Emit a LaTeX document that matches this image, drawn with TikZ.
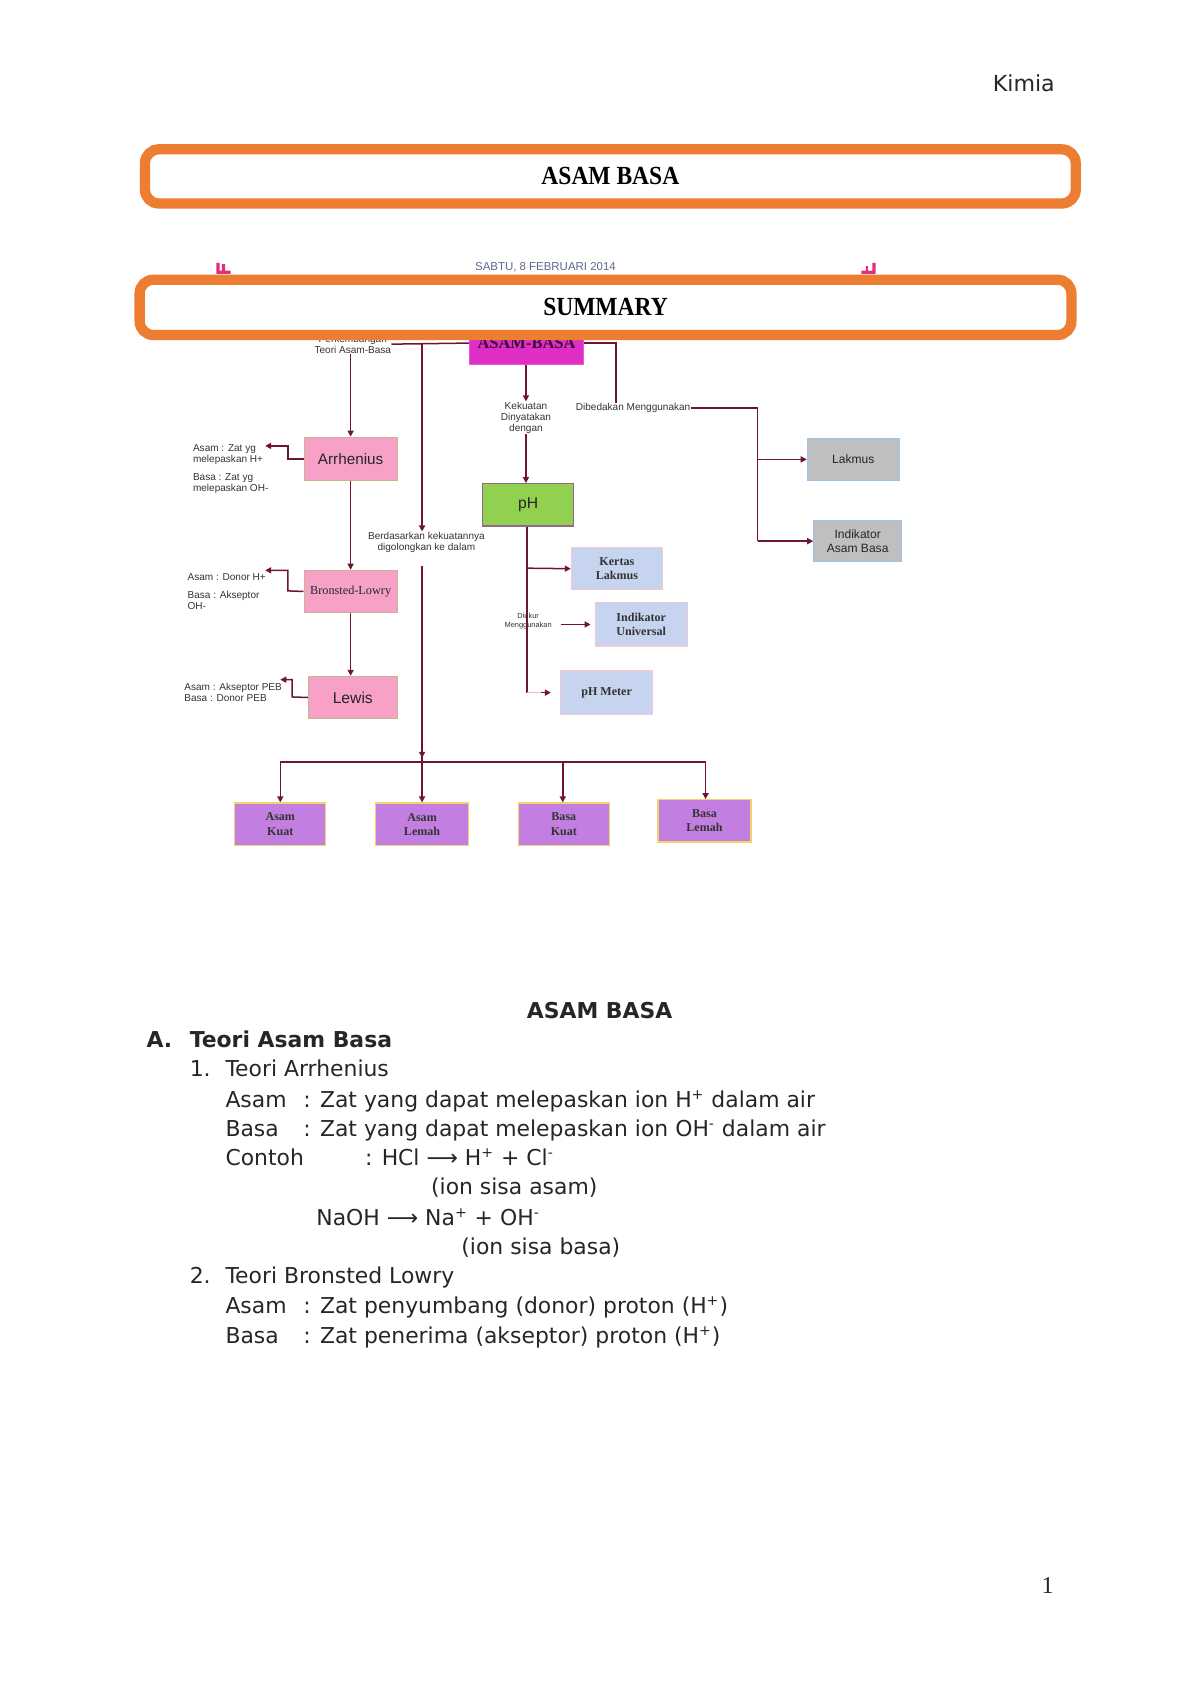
\documentclass[tikz,border=0pt]{standalone}
\usepackage{fontspec}
\usepackage{graphicx}
\setmainfont{DejaVu Sans}
\newfontfamily\serf{Liberation Serif}
\newfontfamily\arf{Liberation Sans}
\newfontfamily\dvs{DejaVu Sans}
\usetikzlibrary{arrows.meta}
\definecolor{oran}{HTML}{ED7D31}
\definecolor{maroon}{HTML}{6E1436}
\definecolor{magF}{HTML}{DE2EC6}
\definecolor{pinkF}{HTML}{F7A1C8}
\definecolor{khaki}{HTML}{C8B48C}
\definecolor{greenF}{HTML}{92D050}
\definecolor{greenD}{HTML}{8E6A8E}
\definecolor{grayF}{HTML}{BFBFBF}
\definecolor{lblue}{HTML}{9DC3E6}
\definecolor{blueF}{HTML}{C6D4EF}
\definecolor{pinkD}{HTML}{F0C8D8}
\definecolor{purpF}{HTML}{C27EE0}
\definecolor{yelD}{HTML}{F2D46A}
\definecolor{lblc}{HTML}{333333}
\definecolor{bodyc}{HTML}{262626}
\definecolor{datec}{HTML}{5A6A8A}
\definecolor{markc}{HTML}{E0307A}
\definecolor{pinkline}{HTML}{F4B8D0}
\def\u{0.18936mm}
\newcommand{\sps}[1]{\textsuperscript{\fontsize{7}{8}\selectfont #1}}
\begin{document}
\begin{tikzpicture}[x=0.18936mm,y=-0.18936mm,
  box/.style={draw, line width=0.6pt, inner sep=0pt, align=center},
  pinkbox/.style={box, fill=pinkF, draw=khaki},
  purpbox/.style={box, fill=purpF, draw=yelD, font=\serf\bfseries\fontsize{6}{7}\selectfont, text=black!80},
  bluebox/.style={box, fill=blueF, draw=pinkD, font=\serf\bfseries\fontsize{6}{7}\selectfont, text=black!80},
  graybox/.style={box, fill=grayF, draw=lblue, font=\arf\fontsize{6}{6.6}\selectfont, text=black!85},
  conn/.style={draw=maroon, line width=0.75pt},
  arr/.style={conn, -{Triangle[length=3pt,width=3pt]}},
  lbl/.style={font=\arf\fontsize{5}{5.6}\selectfont, text=lblc, inner sep=0pt, align=center},
  lbll/.style={lbl, align=left, anchor=west},
  bt/.style={font=\dvs\fontsize{10.9}{13}\selectfont, text=bodyc, anchor=base west, inner sep=0pt},
  obox/.style={draw=oran, line width=1.8mm, fill=white, rounded corners=2.4mm, inner sep=0pt}
]
\useasboundingbox (0,0) rectangle (1109,1569);

% header
\node[font=\dvs\fontsize{11}{13}\selectfont, text=bodyc, anchor=base east, inner sep=0pt] (kimia) at (975,85) {Kimia};

% title box 1
\node[obox, minimum width={860*\u}, minimum height={50*\u}] (title) at (564,163) {\serf\bfseries\fontsize{13}{15}\selectfont\scalebox{0.9}[1]{ASAM BASA}};

% date + marks
\node[font=\arf\fontsize{5.7}{6}\selectfont, text=datec, inner sep=0pt] (date) at (504,247) {SABTU, 8 FEBRUARI 2014};
\fill[markc] (200,243) rectangle (203,253) (205,244) rectangle (208,253) (200,250) rectangle (213,253);
\fill[markc] (806,243) rectangle (809,253) (796,250) rectangle (809,253) (800,246) rectangle (802,250);

% ===== diagram nodes =====
\node[box, fill=magF, draw=magF!80, minimum width={105*\u}, minimum height={40*\u}, font=\serf\bfseries\fontsize{8.2}{9}\selectfont, text=black!75!magF] (ab) at (486.5,317) {ASAM-BASA};
\node[lbl] (perk) at (326,318) {Perkembangan\\Teori Asam-Basa};
\node[pinkbox, minimum width={86*\u}, minimum height={40*\u}, font=\arf\fontsize{7.6}{8}\selectfont, text=black!85] (arh) at (324,424) {Arrhenius};
\node[pinkbox, minimum width={86*\u}, minimum height={39*\u}, font=\serf\fontsize{6.1}{7}\selectfont, text=black!85] (bl) at (324,546.5) {Bronsted-Lowry};
\node[pinkbox, minimum width={82*\u}, minimum height={39*\u}, font=\arf\fontsize{7.8}{8}\selectfont, text=black!85] (lew) at (326,644.5) {Lewis};
\node[lbll] (la1) at (178,420) {Asam : Zat yg\\melepaskan H+};
\node[lbll] (la2) at (178,447) {Basa : Zat yg\\melepaskan OH-};
\node[lbll] (lb1) at (173,533) {Asam : Donor H+};
\node[lbll] (lb2) at (173,555) {Basa : Akseptor\\OH-};
\node[lbll] (lc) at (170,640) {Asam : Akseptor PEB\\Basa : Donor PEB};

\node[lbl] (kek) at (486,386) {Kekuatan\\Dinyatakan\\dengan};
\node[box, fill=greenF, draw=greenD, minimum width={84*\u}, minimum height={39*\u}, font=\arf\fontsize{7.8}{8}\selectfont, text=black!85] (ph) at (488,466.5) {pH};
\node[lbl] (dib) at (585,377) {Dibedakan Menggunakan};
\node[graybox, minimum width={85*\u}, minimum height={39*\u}] (lak) at (788.5,424.5) {Lakmus};
\node[graybox, minimum width={81*\u}, minimum height={38*\u}] (ind) at (792.5,500) {Indikator\\Asam Basa};
\node[bluebox, minimum width={84*\u}, minimum height={39*\u}] (ker) at (570,525.5) {Kertas\\Lakmus};
\node[bluebox, minimum width={85*\u}, minimum height={40*\u}] (uni) at (592.5,577) {Indikator\\Universal};
\node[bluebox, minimum width={85*\u}, minimum height={40*\u}] (phm) at (560.5,640) {pH Meter};

\node[lbl] (berd) at (394,501) {Berdasarkan kekuatannya\\digolongkan ke dalam};
\node[purpbox, minimum width={84*\u}, minimum height={39*\u}] (ak) at (259,761.5) {Asam\\Kuat};
\node[purpbox, minimum width={86*\u}, minimum height={39*\u}] (al) at (390,761.5) {Asam\\Lemah};
\node[purpbox, minimum width={84*\u}, minimum height={39*\u}] (bk) at (521,761.5) {Basa\\Kuat};
\node[purpbox, minimum width={86*\u}, minimum height={39*\u}] (blm) at (651,758.5) {Basa\\Lemah};

% ===== connectors =====
\coordinate (j1) at (390,318);
\coordinate (j2) at (390,704);
\coordinate (hl) at (259,704);
\coordinate (hr) at (652,704);
\draw[conn] (perk.east) -- (ab.west);
\draw[arr] (j1) -- (berd.north -| j1);
\draw[conn] (berd.south -| j1) ++(0,12) coordinate (j1b) -- (j2);
\draw[arr] (j1b) -- ([yshift=2pt]j2);
\draw[conn] (hl) -- (hr);
\draw[arr] (hl) -- (ak.north -| hl);
\draw[arr] (j2) -- (al.north -| j2);
\draw[arr] (520,704) coordinate (j3) -- (bk.north -| j3);
\draw[arr] (hr) -- (blm.north -| hr);

\draw[arr] (perk.south -| arh.north) -- (arh.north);
\draw[arr] (arh.south) -- (bl.north);
\draw[arr] (bl.south) -- (bl.south |- lew.north);
\draw[arr] (arh.west) -- (266,424) -- (266,412) -- (245,412);
\draw[arr] (bl.west) -- (266,546) -- (266,527) -- (245,527);
\draw[arr] (lew.west) -- (270,644) -- (270,628) -- (259,628);

\draw[arr] (ab.south -| kek.north) -- (kek.north);
\draw[arr] (kek.south) -- (ph.north -| kek.south);
\coordinate (p1) at (487,525);
\coordinate (p2) at (487,640);
\draw[conn] (ph.south -| p1) -- (p2);
\draw[arr] (p1) -- (ker.west);
\node[lbl, font=\arf\fontsize{3.7}{4.2}\selectfont] (diuk) at (488,574) {Diukur\\Menggunakan};
\coordinate (u0) at (518,577);
\draw[arr] (u0) -- ([xshift=-2pt]uni.west);
\coordinate (m0) at (500,640);
\coordinate (m1) at (509,640);
\draw[draw=pinkline, line width=0.75pt] (p2) -- (m0);
\draw[arr] (m0) -- (m1);

\draw[conn] (ab.east) -- (569,317) -- (569,372);
\coordinate (d1) at (700,377);
\draw[conn] (dib.east) -- (d1) -- (700,500);
\draw[arr] (700,424.5) -- (lak.west);
\draw[arr] (700,500) -- (ind.west);

% title box 2 (covers top of diagram)
\node[obox, minimum width={861*\u}, minimum height={51*\u}] (summ) at (559.5,284) {\serf\bfseries\fontsize{13}{15}\selectfont\scalebox{0.9}[1]{SUMMARY}};

% ===== body text =====
\node[font=\dvs\bfseries\fontsize{10.9}{13}\selectfont, text=bodyc, anchor=base, inner sep=0pt] (h2) at (554,941) {ASAM BASA};
\node[bt, font=\dvs\bfseries\fontsize{10.9}{13}\selectfont] (sa) at (135,968) {A.};
\node[bt, font=\dvs\bfseries\fontsize{10.9}{13}\selectfont] (sat) at (175,968) {Teori Asam Basa};
\node[bt] (n1) at (175,995) {1.};
\node[bt] (n1t) at (208,995) {Teori Arrhenius};
\node[bt] (a1) at (208,1023) {Asam};
\node[bt] (a1d) at (280,1023) {: Zat yang dapat melepaskan ion H\sps{+} dalam air};
\node[bt] (b1) at (208,1050) {Basa};
\node[bt] (b1d) at (280,1050) {: Zat yang dapat melepaskan ion OH\sps{-} dalam air};
\node[bt] (c1) at (208,1077) {Contoh};
\node[bt] (c1d) at (337,1077) {: HCl ⟶ H\sps{+} + Cl\sps{-}};
\node[bt] (c2) at (398,1104) {(ion sisa asam)};
\node[bt] (c3) at (292,1132) {NaOH ⟶ Na\sps{+} + OH\sps{-}};
\node[bt] (c4) at (426,1159) {(ion sisa basa)};
\node[bt] (n2) at (175,1186) {2.};
\node[bt] (n2t) at (208,1186) {Teori Bronsted Lowry};
\node[bt] (a2) at (208,1214) {Asam};
\node[bt] (a2d) at (280,1214) {: Zat penyumbang (donor) proton (H\sps{+})};
\node[bt] (b2) at (208,1241) {Basa};
\node[bt] (b2d) at (280,1241) {: Zat penerima (akseptor) proton (H\sps{+})};

\node[font=\serf\fontsize{12}{14}\selectfont, text=bodyc, anchor=base, inner sep=0pt] (pg) at (968,1472) {1};
\end{tikzpicture}
\end{document}
